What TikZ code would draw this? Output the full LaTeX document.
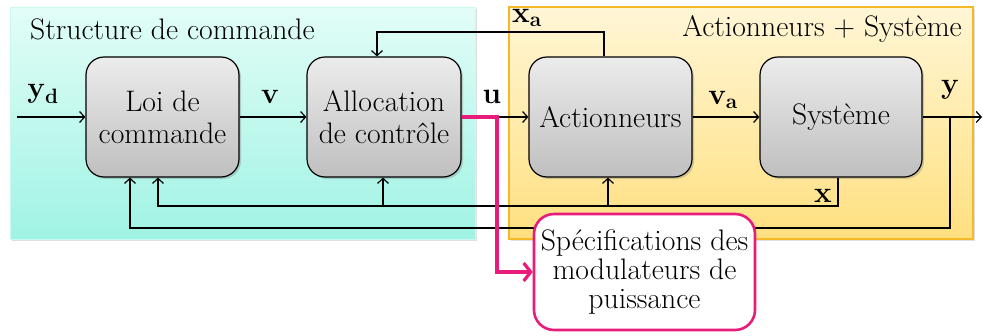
\documentclass[tikz,border=0pt]{standalone}
\usepackage{fontspec}
\usetikzlibrary{arrows.meta,shadows,calc}
\definecolor{cyanTop}{RGB}{226,253,247}
\definecolor{cyanBot}{RGB}{160,243,228}
\definecolor{cyanEdge}{RGB}{200,250,240}
\definecolor{orTop}{RGB}{255,246,214}
\definecolor{orBot}{RGB}{255,224,128}
\definecolor{orEdge}{RGB}{245,185,40}
\definecolor{spink}{RGB}{232,28,122}
\newcommand{\bsub}[2]{\textbf{#1}\textsubscript{\textbf{#2}}}
\tikzset{
  every node/.style={font=\fontsize{29.7}{32}\selectfont},
  panel/.style={drop shadow={shadow xshift=2pt,shadow yshift=-2pt,opacity=0.25}},
  blockbox/.style={draw=black, line width=1.2pt, rounded corners=18pt,
    minimum width=153pt, minimum height=120pt, align=center, inner sep=2pt,
    top color=gray!15, bottom color=gray!50,
    drop shadow={shadow xshift=2pt,shadow yshift=-2pt,opacity=0.35}},
  specbox/.style={draw=spink, line width=2.6pt, rounded corners=20pt, fill=white,
    minimum width=221pt, minimum height=116pt, align=center, inner sep=2pt,
    font=\fontsize{29.7}{29}\selectfont},
  sig/.style={line width=1.2pt, -{Straight Barb[length=5pt,width=11pt]}},
  pinkarrow/.style={draw=spink, line width=3.2pt, line join=miter,
    -{Straight Barb[length=7pt,width=18pt]}},
  lbl/.style={inner sep=0pt},
}
\begin{document}
\begin{tikzpicture}[x=1pt,y=-1pt]
\useasboundingbox (0,0) rectangle (983,335);
% panels
\path[panel, top color=cyanTop, bottom color=cyanBot, draw=cyanEdge, line width=0.8pt]
  (10,7) rectangle (475,239);
\path[panel, top color=orTop, bottom color=orBot, draw=orEdge, line width=1.2pt]
  (509,7) rectangle (973,239);
\node[lbl, anchor=west] (t1) at (30,29) {Structure de commande};
\node[lbl, anchor=east] (t2) at (962,29) {Actionneurs + Système};
% blocks
\node[blockbox] (loi) at (162.5,117) {Loi de\\commande};
\node[blockbox, minimum width=154pt] (alloc) at (384,117) {Allocation\\de contrôle};
\node[blockbox, minimum width=163pt] (act) at (610.5,117) {Actionneurs};
\node[blockbox, minimum width=162pt] (sys) at (841,117) {Système};
% coordinates
\coordinate (in) at (17,117);
\coordinate (out) at (982,117);
\coordinate (yb) at (950,117);
\coordinate (yc) at (130,228);
\coordinate (xc) at (158,206);
\coordinate (xa) at (377,32);
\coordinate (pk) at (497,117);
% main chain
\draw[sig] (in) -- (loi.west);
\draw[sig] (loi.east) -- (alloc.west);
\draw[sig] (alloc.east) -- (act.west);
\draw[sig] (act.east) -- (sys.west);
\draw[sig] (sys.east) -- (out);
% y feedback
\draw[sig] (yb) |- (yc) -- (yc |- loi.south);
% x feedback
\draw[sig] ([xshift=-3pt]sys.south) |- (xc) -- (xc |- loi.south);
\draw[sig] ([xshift=-1pt]alloc.south |- xc) -- ([xshift=-1pt]alloc.south);
\draw[sig] ([xshift=-2.5pt]act.south |- xc) -- ([xshift=-2.5pt]act.south);
% xa feedback
\draw[sig] ([xshift=-6.5pt]act.north) |- (xa) -- (xa |- alloc.north);
% labels
\node[lbl] (lyd) at (43,94) {\bsub{y}{d}};
\node[lbl] (lv) at (270,97) {\textbf{v}};
\node[lbl] (lu) at (492,97) {\textbf{u}};
\node[lbl] (lva) at (723,100) {\bsub{v}{a}};
\node[lbl] (ly) at (950,90) {\textbf{y}};
\node[lbl] (lx) at (823,196) {\textbf{x}};
\node[lbl] (lxa) at (527,18) {\bsub{x}{a}};
% spec box
\node[specbox] (spec) at (644.5,272) {Spécifications des\\modulateurs de\\puissance};
\draw[pinkarrow] (alloc.east) -- (pk) |- (spec.west);
\end{tikzpicture}
\end{document}
